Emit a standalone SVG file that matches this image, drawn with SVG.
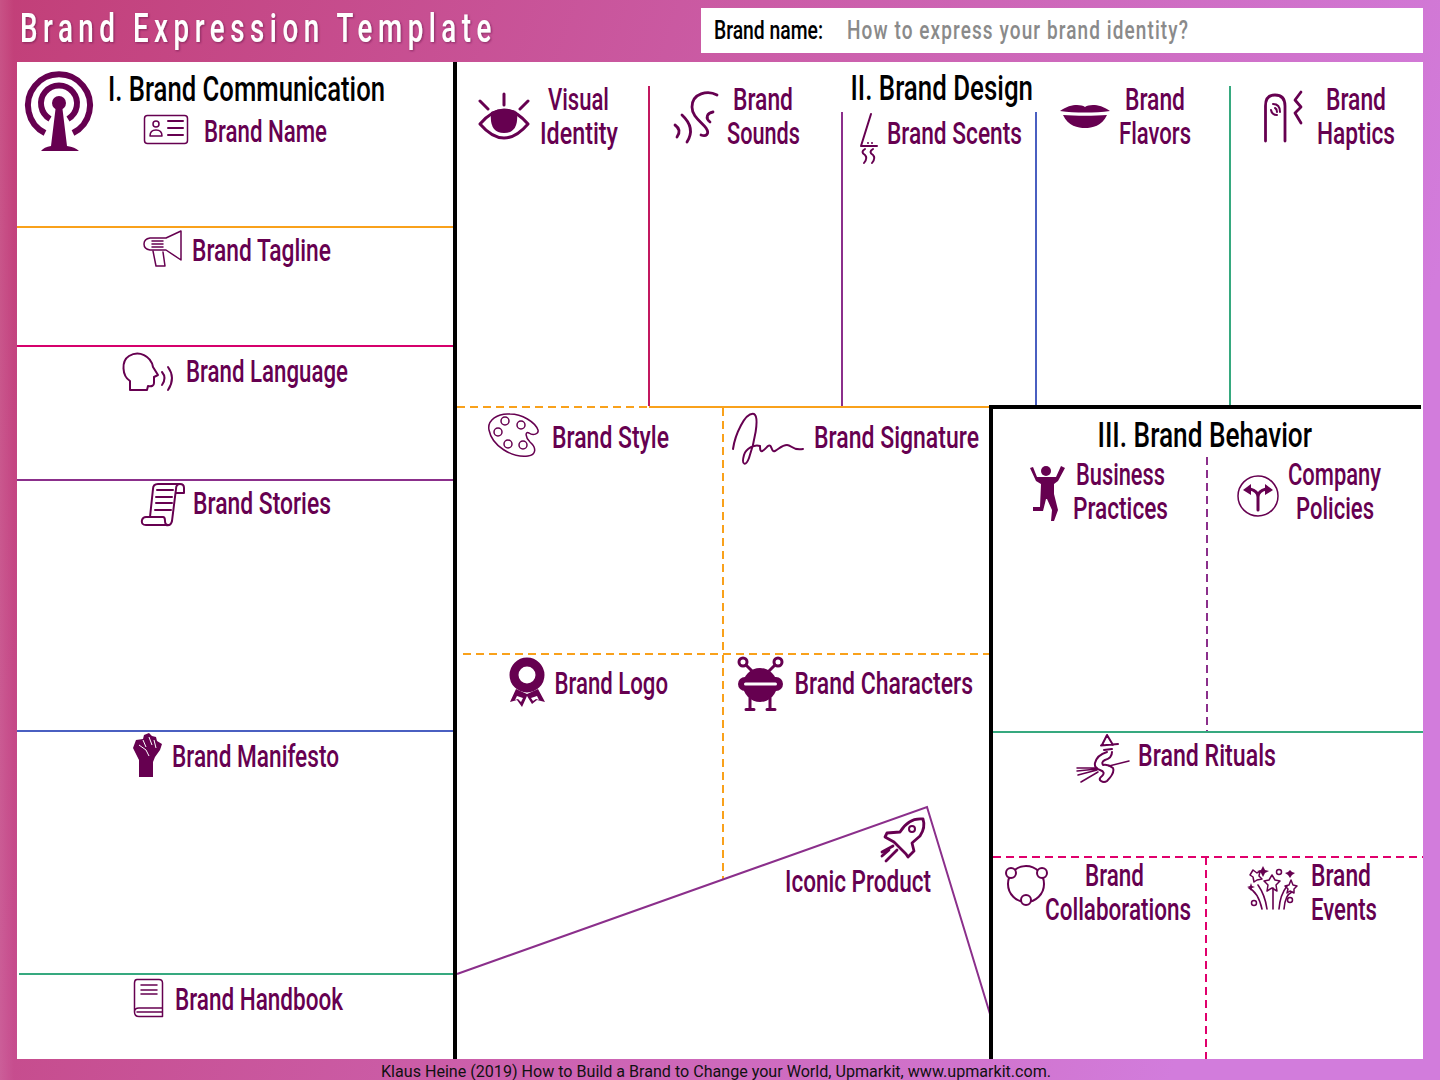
<svg xmlns="http://www.w3.org/2000/svg" width="1440" height="1080" viewBox="0 0 1440 1080">
<style>
text{font-family:"Roboto","Liberation Sans",sans-serif}
.l{font-size:31px;font-weight:500;fill:#660050}
.h{font-size:35px;font-weight:500;fill:#000}
.i{fill:none;stroke:#660050;stroke-width:2;stroke-linecap:round;stroke-linejoin:round}
.t{stroke-width:1.5}
.b{stroke-width:2.800}
.f{fill:#660050;stroke:none}
.w{fill:#fff;stroke:none}
.c line,.c polyline{fill:none}
.d{stroke-dasharray:8 5}
</style>
<defs>
<linearGradient id="bg" x1="0" y1="0" x2="1" y2="0.25"><stop offset="0" stop-color="#c23f78"/><stop offset="0.5" stop-color="#cb5ca6"/><stop offset="1" stop-color="#d27cdc"/></linearGradient>
<linearGradient id="edge" x1="0" y1="0" x2="1" y2="0"><stop offset="0" stop-color="#fff" stop-opacity="0.1"/><stop offset="1" stop-color="#fff" stop-opacity="0"/></linearGradient>
<filter id="sh" x="-5%" y="-20%" width="110%" height="140%"><feDropShadow dx="1" dy="1" stdDeviation="0.8" flood-color="#5a1040" flood-opacity="0.6"/></filter>
</defs>
<rect width="1440" height="1080" fill="url(#bg)"/>
<rect width="14" height="1080" fill="url(#edge)"/>
<rect x="17" y="62" width="1406" height="997" fill="#fff"/>
<rect x="701" y="8" width="722" height="45" fill="#fff"/>
<g id="header">
<text x="20" y="42" font-size="40" font-weight="500" fill="#fff" letter-spacing="8" textLength="477" lengthAdjust="spacingAndGlyphs" filter="url(#sh)">Brand Expression Template</text>
<text x="714" y="39" font-size="26" font-weight="500" fill="#000" textLength="109" lengthAdjust="spacingAndGlyphs">Brand name:</text>
<text x="847" y="39" font-size="26" font-weight="500" fill="#8a8a8a" letter-spacing="1.500" textLength="342" lengthAdjust="spacingAndGlyphs">How to express your brand identity?</text>
</g>
<g id="connectors" class="c">
<line x1="17" y1="227" x2="453" y2="227" stroke="#f9a11b" stroke-width="2"/>
<line x1="17" y1="346" x2="453" y2="346" stroke="#d6006c" stroke-width="2"/>
<line x1="17" y1="480" x2="453" y2="480" stroke="#8b2f8b" stroke-width="2"/>
<line x1="17" y1="731" x2="453" y2="731" stroke="#4a5fc1" stroke-width="2"/>
<line x1="19" y1="974" x2="453" y2="974" stroke="#36a97f" stroke-width="2"/>
<line x1="649" y1="86" x2="649" y2="406" stroke="#c2185f" stroke-width="2"/>
<line x1="842" y1="112" x2="842" y2="406" stroke="#8b2f8b" stroke-width="2"/>
<line x1="1036" y1="112" x2="1036" y2="406" stroke="#4a5fc1" stroke-width="2"/>
<line x1="1230" y1="86" x2="1230" y2="406" stroke="#36a97f" stroke-width="2"/>
<line class="d" x1="457" y1="407" x2="649" y2="407" stroke="#f9a11b" stroke-width="2"/>
<line x1="649" y1="407" x2="990" y2="407" stroke="#f9a11b" stroke-width="2"/>
<line class="d" x1="723" y1="408" x2="723" y2="880" stroke="#f9a11b" stroke-width="2"/>
<line class="d" x1="463" y1="654" x2="990" y2="654" stroke="#f9a11b" stroke-width="2"/>
<polyline points="457,974 927,807 990,1014" stroke="#8b2f8b" stroke-width="2"/>
<line class="d" x1="1207" y1="457" x2="1207" y2="731" stroke="#8b2f8b" stroke-width="2"/>
<line x1="993" y1="732" x2="1423" y2="732" stroke="#36a97f" stroke-width="2"/>
<line class="d" x1="993" y1="857" x2="1423" y2="857" stroke="#e0006c" stroke-width="2"/>
<line class="d" x1="1206" y1="857" x2="1206" y2="1059" stroke="#e0006c" stroke-width="2"/>
<line x1="455" y1="62" x2="455" y2="1059" stroke="#000" stroke-width="4"/>
<line x1="991" y1="406" x2="991" y2="1059" stroke="#000" stroke-width="4"/>
<line x1="989" y1="407" x2="1421" y2="407" stroke="#000" stroke-width="4"/>
</g>
<g id="brand-communication">
<path class="i" style="stroke-width:6;stroke-linecap:butt" d="M45 133A31 31 0 1 1 73 133M50 119A18 18 0 1 1 68 119"/>
<circle class="f" cx="59" cy="103" r="7"/>
<path class="f" d="M56 105H62L67 146Q75 147 79 151H41Q44 147 51 146Z"/>
<text class="h" x="108" y="101" textLength="277" lengthAdjust="spacingAndGlyphs">I. Brand Communication</text>
</g>
<g id="brand-name">
<rect class="i t" x="144.500" y="115.500" width="43" height="28" rx="3"/>
<circle class="i t" cx="156" cy="124" r="3"/>
<path class="i t" d="M150 136Q150 130 156 130Q162 130 162 136Z"/>
<path class="i" d="M168 121H183M168 128H183M168 135H183"/>
<text class="l" x="204" y="141.500" textLength="123" lengthAdjust="spacingAndGlyphs">Brand Name</text>
</g>
<g id="brand-tagline">
<path class="i t" d="M181 231V260L166 250H150Q144 249 144 244Q144 239 150 238H166Z"/>
<path class="i t" d="M152 241H163M152 244H163M152 247H163M153 251L156 266H165L163 252"/>
<text class="l" x="192" y="260.500" textLength="139" lengthAdjust="spacingAndGlyphs">Brand Tagline</text>
</g>
<g id="brand-language">
<path class="i" d="M130 390V381C122 376 121 361 129 356C139 350 151 356 153 367L158 375L154 377V383Q154 387 148 386L147 390Z"/>
<path class="i" d="M162 372Q167 378 162 385M168 367Q176 378 168 390"/>
<text class="l" x="186" y="381.500" textLength="162" lengthAdjust="spacingAndGlyphs">Brand Language</text>
</g>
<g id="brand-stories">
<path class="i" d="M184 488Q184 484 180 484H158Q153 484 153 489L150 517M180 484Q176 484 176 489L172 521Q171 526 166 525H146Q141 525 142 520Q143 517 146 517H163Q165 517 165 521Q165 525 168 525M177 493H184V488"/>
<path class="i" d="M157 490H173M156 497H172M156 503H172M155 510H171"/>
<text class="l" x="193" y="513.500" textLength="138" lengthAdjust="spacingAndGlyphs">Brand Stories</text>
</g>
<g id="brand-manifesto">
<path class="f" d="M139 777V760L133 748L136 740L143 739L144 735L149 733L152 736L156 737L157 741L162 744L160 750L155 757L153 762V777Z"/>
<path fill="none" stroke="#fff" stroke-width="1" d="M143 740L146 747M149 737L152 745M154 740L156 748M139 745L146 750L149 756"/>
<text class="l" x="172" y="766.500" textLength="167" lengthAdjust="spacingAndGlyphs">Brand Manifesto</text>
</g>
<g id="brand-handbook">
<path class="i t" d="M137 979.500H159Q162.500 979.500 162.500 983V1008H139Q134.500 1008 134.500 1012V983Q134.500 979.500 137 979.500ZM134.500 1012Q134.500 1016.500 139 1016.500H162.500V1008"/>
<path class="i t" d="M141 985H157M141 990H157M141 994H157M137 1012H162"/>
<text class="l" x="175" y="1009.500" textLength="168" lengthAdjust="spacingAndGlyphs">Brand Handbook</text>
</g>
<g id="brand-design">
<text class="h" x="850.500" y="100" textLength="182.500" lengthAdjust="spacingAndGlyphs">II. Brand Design</text>
</g>
<g id="visual-identity">
<path class="i" style="stroke-width:3" d="M504 94V105M480 101L488 109M528 101L520 109M480 124Q504 96 528 124Q504 152 480 124Z"/>
<path class="f" d="M491 112Q504 106 517 112Q519 133 504 133Q489 133 491 112Z"/>
<text class="l" x="548" y="110" textLength="61" lengthAdjust="spacingAndGlyphs">Visual</text>
<text class="l" x="540" y="144" textLength="78" lengthAdjust="spacingAndGlyphs">Identity</text>
</g>
<g id="brand-sounds">
<path class="i b" d="M717 95C708 90 692 93 692 107C692 117 702 122 706 128C710 134 706 137 701 135M713 112C707 113 705 118 710 122M675 125Q682 130 677 137M682 115Q696 128 687 142"/>
<text class="l" x="733" y="110" textLength="60" lengthAdjust="spacingAndGlyphs">Brand</text>
<text class="l" x="727" y="144" textLength="73" lengthAdjust="spacingAndGlyphs">Sounds</text>
</g>
<g id="brand-scents">
<path class="i" d="M871 114L861 146H877M865 149Q860 152 865 155Q868 158 864 163M873 149Q868 152 873 155Q876 158 872 163"/>
<circle class="f" cx="868" cy="143" r="1"/><circle class="f" cx="872" cy="143" r="1"/>
<text class="l" x="887" y="144" textLength="135" lengthAdjust="spacingAndGlyphs">Brand Scents</text>
</g>
<g id="brand-flavors">
<path class="f" d="M1060 111C1070 104 1080 104 1085 107C1090 104 1100 104 1110 111C1095 113 1075 113 1060 111ZM1063 115C1075 116 1095 116 1107 115C1102 126 1092 128 1085 128C1078 128 1068 126 1063 115Z"/>
<text class="l" x="1125" y="110" textLength="60" lengthAdjust="spacingAndGlyphs">Brand</text>
<text class="l" x="1119" y="144" textLength="72" lengthAdjust="spacingAndGlyphs">Flavors</text>
</g>
<g id="brand-haptics">
<path class="i b" d="M1265.500 141V106Q1265.500 95 1275 95Q1285 95 1285 106V141"/>
<path class="i" d="M1271 110Q1272 115 1277 115M1273 104Q1280 104 1280 112M1275 108Q1277 109 1277 112"/>
<path class="i b" d="M1301 92L1295 100L1301 107L1295 113L1301 123"/>
<text class="l" x="1326" y="110" textLength="60" lengthAdjust="spacingAndGlyphs">Brand</text>
<text class="l" x="1317" y="144" textLength="78" lengthAdjust="spacingAndGlyphs">Haptics</text>
</g>
<g id="brand-style">
<path class="i t" d="M489 430C487 420 498 413 510 414C522 414 535 422 538 430C539 434 533 436 529 433C525 431 525 437 530 442C537 448 536 455 528 456C512 458 492 446 489 430Z"/>
<circle class="i t" cx="505" cy="421" r="4"/><circle class="i t" cx="521" cy="425" r="4"/><circle class="i t" cx="498" cy="432" r="4"/><circle class="i t" cx="508" cy="444" r="4"/><circle class="i t" cx="523" cy="445" r="4"/>
<text class="l" x="552" y="447.500" textLength="117" lengthAdjust="spacingAndGlyphs">Brand Style</text>
</g>
<g id="brand-signature">
<path class="i" d="M733 449C735 435 745 412 754 414C760 417 754 444 749 458C746 466 741 466 744 455C746 448 755 444 760 446C760 455 763 451 768 446C772 443 771 453 775 451C779 449 782 445 787 445C792 445 792 451 803 449"/>
<text class="l" x="814" y="447.500" textLength="165" lengthAdjust="spacingAndGlyphs">Brand Signature</text>
</g>
<g id="brand-logo">
<circle class="i" style="stroke-width:9" cx="527" cy="675" r="13"/>
<path class="f" d="M516 689L510 702L517 700L522 707L527 696L532 704L537 700L545 702L538 689L527 694Z"/>
<path fill="#fff" d="M517 696L515 700L518 699L521 702L523 698ZM537 696L539 700L536 699L533 701L531 698Z"/>
<text class="l" x="554.500" y="693.500" textLength="113.500" lengthAdjust="spacingAndGlyphs">Brand Logo</text>
</g>
<g id="brand-characters">
<circle class="f" cx="760" cy="685" r="17"/>
<rect class="f" x="738" y="677" width="45" height="14" rx="7"/>
<rect class="w" x="744" y="682.500" width="33" height="3" rx="1.500"/>
<circle class="i" style="stroke-width:3" cx="743" cy="662" r="4"/><circle class="i" style="stroke-width:3" cx="778" cy="662" r="4"/>
<path class="i" style="stroke-width:3" d="M746 665L752 671M775 665L769 671M750 698V709M770 698V709M746 709.500H754M767 709.500H775"/>
<text class="l" x="794.500" y="693.500" textLength="178.500" lengthAdjust="spacingAndGlyphs">Brand Characters</text>
</g>
<g id="iconic-product">
<path class="i b" d="M923 819C914 818 906 822 900 832L887 833L885 837L894 842L906 854L908 857L914 851L912 843L920 836C924 830 925 825 923 819Z"/>
<circle class="i" cx="912" cy="829" r="3"/>
<path class="i b" d="M893 846L882 852M897 850L886 861M889 850L882 856"/>
<text class="l" x="785" y="891.500" textLength="146" lengthAdjust="spacingAndGlyphs">Iconic Product</text>
</g>
<g id="brand-behavior">
<text class="h" x="1097.500" y="447" textLength="214.500" lengthAdjust="spacingAndGlyphs">III. Brand Behavior</text>
</g>
<g id="business-practices">
<circle class="f" cx="1046" cy="471" r="5"/>
<path class="f" d="M1030 468L1033 467L1037 477H1056L1061 466L1065 468L1058 481L1054 484V494L1058 510L1054 521H1051L1052 510L1047 499H1046L1043 511H1033V507H1040L1041 484L1036 481Z"/>
<text class="l" x="1076" y="485" textLength="89" lengthAdjust="spacingAndGlyphs">Business</text>
<text class="l" x="1073" y="519" textLength="95" lengthAdjust="spacingAndGlyphs">Practices</text>
</g>
<g id="company-policies">
<circle class="i t" cx="1258" cy="496" r="20"/>
<path class="i" style="stroke-width:3" d="M1258 510V497Q1258 491 1250 489M1258 497Q1258 491 1266 489"/>
<path class="f" d="M1243 490L1251 484V495ZM1273 490L1265 484V495Z"/>
<text class="l" x="1288" y="485" textLength="93" lengthAdjust="spacingAndGlyphs">Company</text>
<text class="l" x="1296" y="519" textLength="78" lengthAdjust="spacingAndGlyphs">Policies</text>
</g>
<g id="brand-rituals">
<path class="i" d="M1107 735L1102 745M1107 735L1113 745M1101 745.500L1118 744M1104 750L1112 749M1107 752Q1097 755 1095 763Q1094 768 1100 770Q1106 772 1102 776Q1098 779 1101 781Q1104 783 1107 781Q1115 773 1113 768Q1108 764 1103 765Q1101 762 1105 760Q1112 758 1112 752"/>
<path class="i t" d="M1129 761L1109 766M1097 768L1077 768M1097 769L1077 771M1097 770L1078 775M1098 772L1081 782"/>
<text class="l" x="1138" y="765.500" textLength="138" lengthAdjust="spacingAndGlyphs">Brand Rituals</text>
</g>
<g id="brand-collaborations">
<circle class="i" cx="1026" cy="884" r="18"/>
<circle cx="1011" cy="873" r="5" fill="#fff" stroke="#660050" stroke-width="2"/><circle cx="1042" cy="873" r="5" fill="#fff" stroke="#660050" stroke-width="2"/><circle cx="1026" cy="900" r="5" fill="#fff" stroke="#660050" stroke-width="2"/>
<text class="l" x="1085" y="885.500" textLength="59" lengthAdjust="spacingAndGlyphs">Brand</text>
<text class="l" x="1045" y="919.500" textLength="146" lengthAdjust="spacingAndGlyphs">Collaborations</text>
</g>
<g id="brand-events">
<path class="i" style="stroke-width:1.600" d="M1262 909Q1258 892 1249 888M1267 909Q1265 895 1258 885M1273 909V888M1279 909Q1280 895 1287 886M1284 909Q1285 895 1292 892"/>
<path class="i t" d="M1272 875L1275 880L1280 881L1276 885L1277 891L1272 888L1267 891L1268 885L1264 881L1269 880ZM1253 870L1257 873L1260 871L1259 876L1262 879L1257 880L1254 882L1253 877L1250 875ZM1291 880L1293 885L1297 886L1294 889L1294 893L1290 891L1287 893L1288 889L1285 886L1289 885Z"/>
<path class="f" d="M1263 866L1265 870L1269 871L1265 873L1263 877L1261 873L1257 871L1261 870ZM1290 870L1292 872L1295 873L1292 875L1290 878L1288 875L1285 873L1288 872ZM1251 883L1252 886L1255 887L1252 888L1251 891L1250 888L1247 887L1250 886Z"/>
<circle class="i t" cx="1279" cy="872" r="2.500"/><circle class="i t" cx="1254" cy="903" r="2.500"/><circle class="i t" cx="1290" cy="900" r="2.500"/>
<text class="l" x="1311" y="885.500" textLength="60" lengthAdjust="spacingAndGlyphs">Brand</text>
<text class="l" x="1311" y="919.500" textLength="66" lengthAdjust="spacingAndGlyphs">Events</text>
</g>
<g id="footer"><text x="381" y="1076.500" font-size="16" fill="#111" textLength="670" lengthAdjust="spacingAndGlyphs">Klaus Heine (2019) How to Build a Brand to Change your World, Upmarkit, www.upmarkit.com.</text></g>
</svg>
